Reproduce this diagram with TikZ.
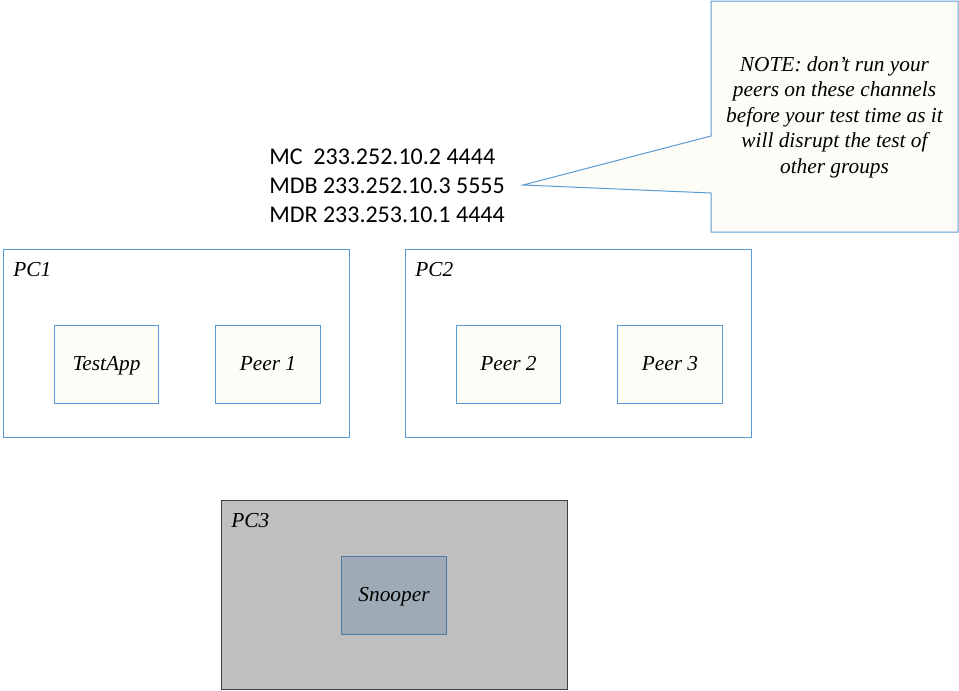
\documentclass[tikz,border=0pt]{standalone}
\usepackage{fontspec}
\setmainfont{Liberation Serif}
\newfontfamily\channelfont{Carlito}
\usetikzlibrary{positioning}

\definecolor{boxblue}{HTML}{5B9BD5}
\definecolor{notefill}{HTML}{FDFCF7}
\definecolor{pcgray}{HTML}{BFBFBF}
\definecolor{pcdark}{HTML}{404040}
\definecolor{snoopfill}{HTML}{9EAAB5}
\definecolor{snoopline}{HTML}{4A7AA5}

\tikzset{
  pc/.style={draw=boxblue, line width=0.75pt, minimum width=259.5pt, minimum height=141pt},
  app/.style={draw=boxblue, fill=notefill, line width=0.75pt, minimum width=78.5pt,
    minimum height=58.5pt, text depth=1pt, font=\itshape\fontsize{16}{19.2}\selectfont},
  pclabel/.style={anchor=base west, inner sep=0pt, font=\itshape\fontsize{16}{19.2}\selectfont},
}

\begin{document}
\begin{tikzpicture}[x=0.75pt, y=-0.75pt]
            \useasboundingbox (0,0) rectangle (959,690);
            % channels
            \node[anchor=west, inner sep=0pt, align=left,
                  font=\channelfont\fontsize{18}{21.75}\selectfont] (channels) at (269,186)
                  {MC\ \ 233.252.10.2 4444\\MDB 233.252.10.3 5555\\MDR 233.253.10.1 4444};
            \coordinate (tip) at (523,185);
            % note
            \draw[draw=boxblue, fill=notefill, line width=0.75pt]
                  (711,1) -- (958,1) -- (958,232) -- (711,232) -- (711,193) -- (tip) -- (711,136) -- cycle;
            \node[align=center, font=\itshape\fontsize{16}{19.1}\selectfont] (note) at (834.5,117)
                  {NOTE: don’t run your\\peers on these channels\\before your test time as it\\will disrupt the test of\\other groups};
            % PC1
            \node[pc] (pc1) at (176,343) {};
            \node[pclabel] (pc1l) at (13,276) {PC1};
            \node[app] (testapp) at (106.5,364) {TestApp};
            \node[app] (peer1) at (268,364) {Peer 1};
            % PC2
            \node[pc] (pc2) at (578.5,343) {};
            \node[pclabel] (pc2l) at (415,276) {PC2};
            \node[app] (peer2) at (508.5,364) {Peer 2};
            \node[app] (peer3) at (670,364) {Peer 3};
            % PC3
            \node[pc, draw=pcdark, fill=pcgray, minimum height=141.75pt] (pc3) at (394.5,594.5) {};
            \node[pclabel] (pc3l) at (231,527) {PC3};
            \node[app, draw=snoopline, fill=snoopfill] (snooper) at (394,595) {Snooper};
        \end{tikzpicture}
\end{document}
